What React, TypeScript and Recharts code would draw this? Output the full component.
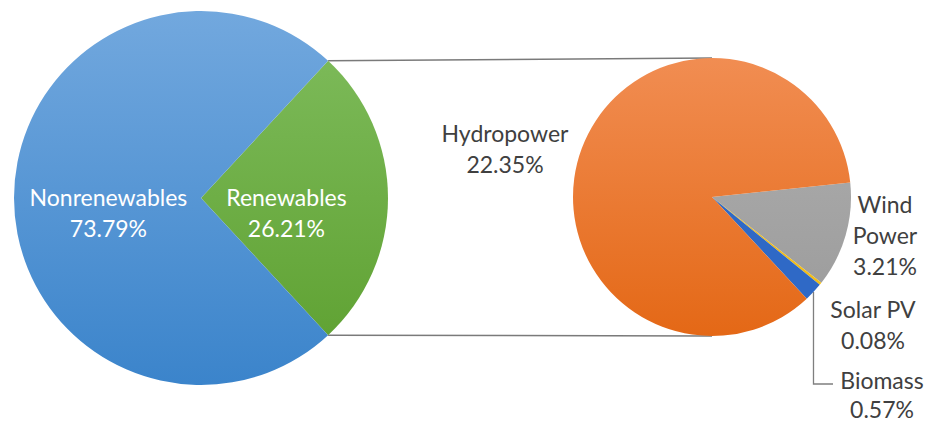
import { PieChart, Pie, Cell } from 'recharts';

// Energy mix: total split, then the renewables share broken out
const mainNames = ['Renewables', 'Nonrenewables'];
const mainShares = [26.21, 73.79];

const renewableNames = ['Wind Power', 'Solar PV', 'Biomass', 'Hydropower'];
const renewableShares = [3.21, 0.08, 0.57, 22.35];

const mainData = mainNames.map((name, i) => ({ name, value: mainShares[i] }));
const renewableData = renewableNames.map((name, i) => ({ name, value: renewableShares[i] }));

const W = 928;
const H = 427;
const LEFT = { cx: 201, cy: 198, r: 187 };
const RIGHT = { cx: 712, cy: 197, r: 139 };
const RAD = Math.PI / 180;

// renewables wedge sits centred on 3 o'clock, slices run clockwise
const mainStart = (mainShares[0] * 3.6) / 2;
const subStart = 6;

const FONT = 'Lato, "Open Sans", sans-serif';
const FONT_SIZE = 23;
const LINE = 31;

const mainFills = ['url(#gGreen)', 'url(#gBlue)'];
const subFills = ['url(#gGray)', '#f2bd16', '#2f69c6', 'url(#gOrange)'];

const mainLabelRadius: Record<string, number> = { Renewables: 0.457, Nonrenewables: 0.495 };

// label anchors, offset from the secondary pie's centre
const subLabelPos: Record<string, { dx: number; dy: number }> = {
  Hydropower: { dx: -207, dy: -55 },
  'Wind Power': { dx: 173, dy: 16 },
  'Solar PV': { dx: 161, dy: 121 },
  Biomass: { dx: 170, dy: 192 },
};
const subLabelLines: Record<string, string[]> = { 'Wind Power': ['Wind', 'Power'] };

const pct = (v: number) => `${v.toFixed(2)}%`;

const MainLabel = (props: any) => {
  const { cx, cy, midAngle, outerRadius, name, value } = props;
  const k = mainLabelRadius[name] ?? 0.5;
  const x = cx + outerRadius * k * Math.cos(-midAngle * RAD);
  return (
    <text x={x} y={cy + 8} fill="#ffffff" textAnchor="middle" fontFamily={FONT} fontSize={FONT_SIZE}>
      <tspan x={x}>{name}</tspan>
      <tspan x={x} dy={LINE}>{pct(value)}</tspan>
    </text>
  );
};

const SubLabel = (props: any) => {
  const { cx, cy, midAngle, outerRadius, name, value } = props;
  const pos = subLabelPos[name];
  if (!pos) return null;
  const x = cx + pos.dx;
  const y = cy + pos.dy;
  const lines = [...(subLabelLines[name] ?? [name]), pct(value)];
  let leader = null;
  if (name === 'Biomass') {
    // elbow leader from the slice edge down to the label
    const ex = cx + outerRadius * Math.cos(-midAngle * RAD);
    const ey = cy + outerRadius * Math.sin(-midAngle * RAD);
    leader = (
      <path
        d={`M${ex},${ey} L${ex},${y - 5} L${x - 49},${y - 5}`}
        fill="none"
        stroke="#7f7f7f"
        strokeWidth={1.3}
      />
    );
  }
  return (
    <g>
      {leader}
      <text x={x} y={y} fill="#404040" textAnchor="middle" fontFamily={FONT} fontSize={FONT_SIZE}>
        {lines.map((t, i) => (
          <tspan key={i} x={x} dy={i === 0 ? 0 : i === lines.length - 1 && name === 'Biomass' ? LINE - 2 : LINE}>
            {t}
          </tspan>
        ))}
      </text>
    </g>
  );
};

// lines joining the renewables wedge to the breakout pie
const Connectors = () => {
  const a = mainStart * RAD;
  const x0 = LEFT.cx + LEFT.r * Math.cos(a);
  const yTop = LEFT.cy - LEFT.r * Math.sin(a);
  const yBot = LEFT.cy + LEFT.r * Math.sin(a);
  return (
    <svg width={W} height={H} style={{ position: 'absolute', left: 0, top: 0 }}>
      <line x1={x0} y1={yTop} x2={RIGHT.cx} y2={RIGHT.cy - RIGHT.r} stroke="#7a7a7a" strokeWidth={1.5} />
      <line x1={x0} y1={yBot} x2={RIGHT.cx} y2={RIGHT.cy + RIGHT.r} stroke="#7a7a7a" strokeWidth={1.5} />
    </svg>
  );
};

export default function App() {
  return (
    <div style={{ position: 'absolute', left: 0, top: 0, width: W, height: H, background: '#ffffff' }}>
      <Connectors />
      <div style={{ position: 'absolute', left: 0, top: 0 }}>
        <PieChart width={W} height={H} margin={{ top: 0, right: 0, bottom: 0, left: 0 }}>
          <defs>
            <linearGradient id="gBlue" x1="0" y1={LEFT.cy - LEFT.r} x2="0" y2={LEFT.cy + LEFT.r} gradientUnits="userSpaceOnUse">
              <stop offset="0" stopColor="#72a8de" />
              <stop offset="1" stopColor="#3b84cb" />
            </linearGradient>
            <linearGradient id="gGreen" x1="0" y1={LEFT.cy - LEFT.r} x2="0" y2={LEFT.cy + LEFT.r} gradientUnits="userSpaceOnUse">
              <stop offset="0" stopColor="#80bd5e" />
              <stop offset="1" stopColor="#5c9f2e" />
            </linearGradient>
            <linearGradient id="gOrange" x1="0" y1={RIGHT.cy - RIGHT.r} x2="0" y2={RIGHT.cy + RIGHT.r} gradientUnits="userSpaceOnUse">
              <stop offset="0" stopColor="#f18d52" />
              <stop offset="1" stopColor="#e46816" />
            </linearGradient>
            <linearGradient id="gGray" x1="0" y1={RIGHT.cy - RIGHT.r} x2="0" y2={RIGHT.cy + RIGHT.r} gradientUnits="userSpaceOnUse">
              <stop offset="0" stopColor="#b0b0b0" />
              <stop offset="1" stopColor="#9a9a9a" />
            </linearGradient>
          </defs>
          <Pie
            data={mainData}
            dataKey="value"
            nameKey="name"
            cx={LEFT.cx}
            cy={LEFT.cy}
            outerRadius={LEFT.r}
            startAngle={mainStart}
            endAngle={mainStart - 360}
            stroke="none"
            label={MainLabel}
            labelLine={false}
            isAnimationActive={false}
          >
            {mainData.map((d, i) => (
              <Cell key={d.name} fill={mainFills[i]} stroke="none" />
            ))}
          </Pie>
          <Pie
            data={renewableData}
            dataKey="value"
            nameKey="name"
            cx={RIGHT.cx}
            cy={RIGHT.cy}
            outerRadius={RIGHT.r}
            startAngle={subStart}
            endAngle={subStart - 360}
            stroke="none"
            label={SubLabel}
            labelLine={false}
            isAnimationActive={false}
          >
            {renewableData.map((d, i) => (
              <Cell key={d.name} fill={subFills[i]} stroke="none" />
            ))}
          </Pie>
        </PieChart>
      </div>
    </div>
  );
}
